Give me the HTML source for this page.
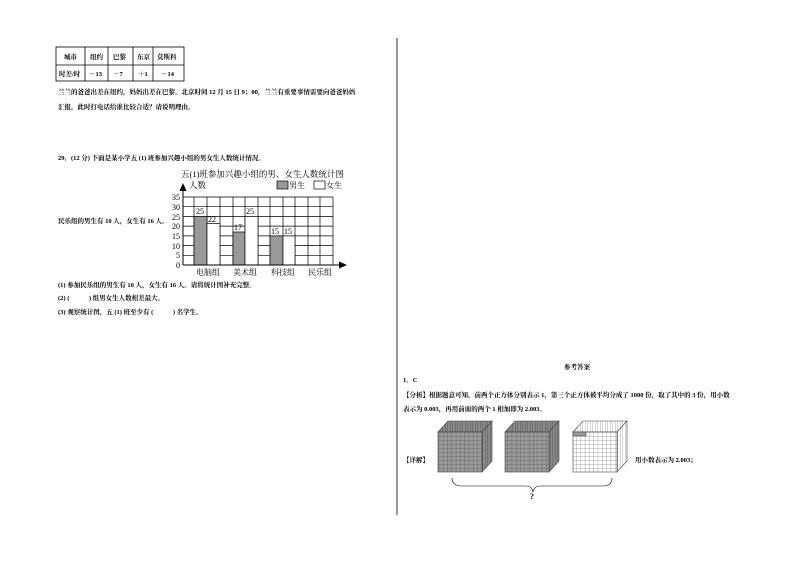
<!DOCTYPE html>
<html><head><meta charset="utf-8"><style>
html,body{margin:0;padding:0;background:#fff;}
svg{display:block;}
text{font-family:"Liberation Serif","Noto Serif CJK SC","Noto Sans CJK SC",serif;fill:#000;}
.s{font-size:6.5px;font-weight:bold;}
</style></head><body>
<svg width="794" height="562" viewBox="0 0 794 562" xmlns="http://www.w3.org/2000/svg">
<defs>
<pattern id="g" width="4.3" height="4" patternUnits="userSpaceOnUse"><rect width="4.3" height="4" fill="#9a9a9a"/><path d="M0 0H4.3M0 0V4" stroke="#444" stroke-width="0.5"/></pattern>
<pattern id="w" width="4.3" height="4" patternUnits="userSpaceOnUse"><rect width="4.3" height="4" fill="#fff"/><path d="M0 0H4.3M0 0V4" stroke="#555" stroke-width="0.5"/></pattern>
<pattern id="d" width="2.5" height="4" patternUnits="userSpaceOnUse"><rect width="2.5" height="4" fill="#888"/><path d="M0 0V4" stroke="#333" stroke-width="0.5"/></pattern>
<pattern id="dw" width="2.5" height="4" patternUnits="userSpaceOnUse"><rect width="2.5" height="4" fill="#fff"/><path d="M0 0V4" stroke="#555" stroke-width="0.5"/></pattern>
</defs>
<g stroke="#000" stroke-width="0.8" fill="none">
<rect x="56" y="47" width="128" height="34"/>
<line x1="56" y1="65" x2="184" y2="65"/>
<line x1="85" y1="47" x2="85" y2="81"/><line x1="108" y1="47" x2="108" y2="81"/>
<line x1="133" y1="47" x2="133" y2="81"/><line x1="153" y1="47" x2="153" y2="81"/>
</g>
<g class="s">
<text x="64" y="59">城市</text><text x="90" y="59">纽约</text><text x="113" y="59">巴黎</text><text x="137" y="59">东京</text><text x="157" y="59">莫斯科</text>
<text x="59" y="76">时差/时</text><text x="89" y="76">－13</text><text x="113" y="76">－7</text><text x="138" y="76">＋1</text><text x="161" y="76">－14</text>
<text x="58" y="94">兰兰的爸爸出差在纽约，妈妈出差在巴黎。北京时间 12 月 15 日 9：00，兰兰有重要事情需要向爸爸妈妈</text>
<text x="58" y="109">汇报，此时打电话给谁比较合适？请说明理由。</text>
<text x="58" y="160">29．(12 分) 下面是某小学五 (1) 班参加兴趣小组的男女生人数统计情况。</text>
<text x="58" y="223">民乐组的男生有 10 人，女生有 16 人。</text>
<text x="58" y="287">(1) 参加民乐组的男生有 10 人，女生有 16 人。请将统计图补充完整。</text>
<text x="58" y="300">(2) (　　　) 组男女生人数相差最大。</text>
<text x="58" y="314">(3) 观察统计图，五 (1) 班至少有 (　　　) 名学生。</text>
</g>
<text x="181" y="177" style="font-size:8.5px">五(1)班参加兴趣小组的男、女生人数统计图</text>
<text x="189" y="188" style="font-size:8.5px">人数</text>
<rect x="277" y="181" width="11" height="8" fill="#999" stroke="#000" stroke-width="0.7"/>
<text x="289" y="188" style="font-size:8px">男生</text>
<rect x="314" y="181" width="11" height="8" fill="#fff" stroke="#000" stroke-width="0.7"/>
<text x="326" y="188" style="font-size:8px">女生</text>
<g stroke="#000" stroke-width="0.7">
<path d="M183 197H333M183 206.7H333M183 216.4H333M183 226.1H333M183 235.9H333M183 245.6H333M183 255.3H333"/>
<path d="M194 197V265M207 197V265M220 197V265M233 197V265M245 197V265M258 197V265M270 197V265M283 197V265M295 197V265M308 197V265M320 197V265M333 197V265"/>
</g>
<rect x="194" y="216.4" width="13" height="48.6" fill="#999" stroke="#000" stroke-width="0.7"/>
<rect x="207" y="223.6" width="13" height="41.4" fill="#fff" stroke="#000" stroke-width="0.7"/>
<rect x="233" y="232" width="12" height="33" fill="#999" stroke="#000" stroke-width="0.7"/>
<rect x="245" y="216.4" width="13" height="48.6" fill="#fff" stroke="#000" stroke-width="0.7"/>
<rect x="270" y="235.9" width="13" height="29.1" fill="#999" stroke="#000" stroke-width="0.7"/>
<rect x="283" y="235.9" width="12" height="29.1" fill="#fff" stroke="#000" stroke-width="0.7"/>
<g style="font-size:8px">
<text x="196" y="214">25</text><text x="208" y="222">22</text><text x="234" y="230">17</text><text x="246" y="214">25</text><text x="271" y="234">15</text><text x="284" y="234">15</text>
<text x="172" y="200">35</text><text x="172" y="210">30</text><text x="172" y="220">25</text><text x="172" y="229">20</text><text x="172" y="239">15</text><text x="172" y="249">10</text><text x="176" y="258">5</text><text x="176" y="268">0</text>
<text x="196" y="275">电脑组</text><text x="233" y="275">美术组</text><text x="271" y="275">科技组</text><text x="308" y="275">民乐组</text>
</g>
<g stroke="#000" stroke-width="1"><line x1="183" y1="186" x2="183" y2="265"/><line x1="183" y1="265" x2="343" y2="265"/></g>
<path d="M179.5 191L183 183L186.5 191Z M339 261.5L347 265L339 268.5Z" fill="#000"/>
<line x1="397" y1="38" x2="397" y2="515" stroke="#000" stroke-width="0.8"/>
<g class="s">
<text x="564" y="369">参考答案</text>
<text x="403" y="382">1．C</text>
<text x="403" y="397">【分析】根据题意可知，前两个正方体分别表示 1，第三个正方体被平均分成了 1000 份，取了其中的 3 份，用小数</text>
<text x="403" y="411">表示为 0.003，再用前面的两个 1 相加即为 2.003。</text>
<text x="403" y="462">【详解】</text>
<text x="635" y="462">用小数表示为 2.003；</text>
<text x="530" y="499" style="font-size:8px">?</text>
</g>
<g stroke="#444" stroke-width="0.6">
<polygon points="438,432 448,421 492,421 482,432" fill="url(#d)"/>
<polygon points="482,432 492,421 492,461 482,472" fill="url(#d)"/>
<rect x="438" y="432" width="44" height="40" fill="url(#g)"/>
<polygon points="505,432 515,421 559,421 549,432" fill="url(#d)"/>
<polygon points="549,432 559,421 559,461 549,472" fill="url(#d)"/>
<rect x="505" y="432" width="44" height="40" fill="url(#g)"/>
<polygon points="573,432 583,421 627,421 617,432" fill="url(#dw)"/>
<polygon points="617,432 627,421 627,461 617,472" fill="url(#dw)"/>
<rect x="573" y="432" width="44" height="40" fill="url(#w)"/>
<rect x="573" y="432" width="13" height="4" fill="#999"/>
</g>
<path d="M452 478 Q452 486 462 486 H526 Q532 486 533 492 Q534 486 540 486 H603 Q612 486 612 478" fill="none" stroke="#000" stroke-width="0.6"/>
</svg>
</body></html>
